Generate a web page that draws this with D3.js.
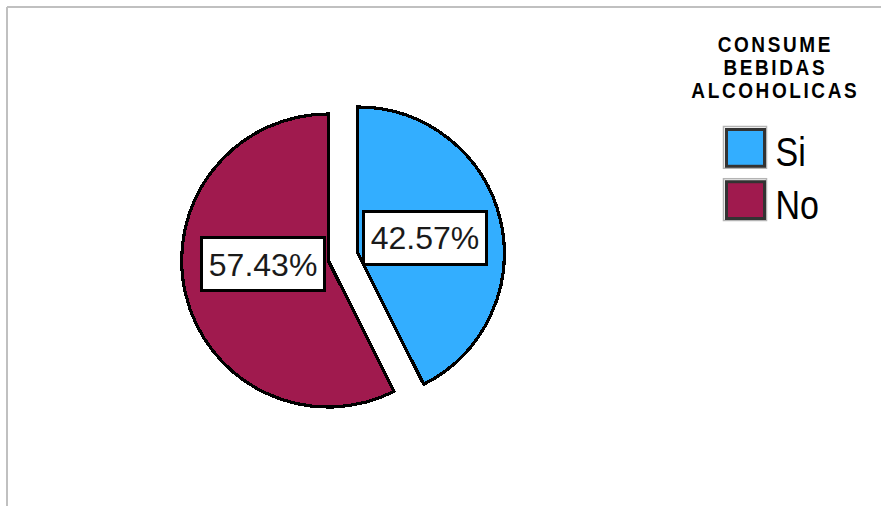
<!DOCTYPE html>
<html>
<head>
<meta charset="utf-8">
<script src="https://cdn.jsdelivr.net/npm/d3@7"></script>
<style>
  html, body { margin: 0; padding: 0; background: #fff; }
  svg { display: block; }
</style>
</head>
<body>
<svg id="chart" width="881" height="506"></svg>
<script>
// Survey answer: does the respondent drink alcoholic beverages?
const categories = ["Si", "No"];
const percentages = [42.57, 57.43];
const legendTitle = ["CONSUME", "BEBIDAS", "ALCOHOLICAS"];

const colors = ["#33aeff", "#a01a4e"];

const svg = d3.select("#chart");
const W = 881, H = 506;

// Frame lines along the top and left edges
svg.append("line").attr("x1", 7).attr("y1", 7).attr("x2", W).attr("y2", 7)
  .attr("stroke", "#c0c0c0").attr("stroke-width", 2);
svg.append("line").attr("x1", 7).attr("y1", 7).attr("x2", 7).attr("y2", H)
  .attr("stroke", "#c0c0c0").attr("stroke-width", 2);

// Pie layout
const cx = 343, cy = 257, radius = 146.5;
const explode = 15.2;     // distance each slice is pulled out
const labelDist = 69;     // label distance from a slice's own apex
const labelShift = [[0, 0], [2, -12]];

const pie = d3.pie().sort(null).value(d => d)
  .startAngle(0).endAngle(2 * Math.PI);
const arcs = pie(percentages);
const arc = d3.arc().innerRadius(0).outerRadius(radius);

const g = svg.append("g").attr("transform", `translate(${cx},${cy})`);

const dirOf = d => {
  const mid = (d.startAngle + d.endAngle) / 2;
  return [Math.sin(mid), -Math.cos(mid)];
};

const slices = g.selectAll("g.slice").data(arcs).enter().append("g")
  .attr("class", "slice")
  .attr("transform", d => {
    const [dx, dy] = dirOf(d);
    return `translate(${dx * explode},${dy * explode})`;
  });

slices.append("path")
  .attr("d", arc)
  .attr("fill", (d, i) => colors[i])
  .attr("stroke", "#000")
  .attr("stroke-width", 3.2)
  .attr("stroke-linejoin", "miter")
  .attr("shape-rendering", "crispEdges");

// Percentage labels in white boxes
const boxW = 123, boxH = 53;
const fmt = v => v.toFixed(2) + "%";
slices.each(function (d, i) {
  const [dx, dy] = dirOf(d);
  const lx = dx * labelDist + labelShift[i][0];
  const ly = dy * labelDist + labelShift[i][1];
  const lg = d3.select(this).append("g").attr("transform", `translate(${lx},${ly})`);
  lg.append("rect")
    .attr("x", -boxW / 2).attr("y", -boxH / 2)
    .attr("width", boxW).attr("height", boxH)
    .attr("fill", "#fff").attr("stroke", "#000").attr("stroke-width", 3)
    .attr("shape-rendering", "crispEdges");
  lg.append("text")
    .attr("x", 0).attr("y", 11.5)
    .attr("text-anchor", "middle")
    .attr("font-family", "'Liberation Sans', Arial, sans-serif")
    .attr("font-size", 32)
    .attr("fill", "#1a1a1a")
    .text(fmt(d.data));
});

// Legend title, three stacked lines
const lgX = 774;
legendTitle.forEach((t, i) => {
  svg.append("text")
    .attr("transform", `translate(${lgX + 1.3},${51.5 + i * 23.3}) scale(1,1.15)`)
    .attr("text-anchor", "middle")
    .attr("font-family", "'Liberation Sans', Arial, sans-serif")
    .attr("font-weight", "bold")
    .attr("font-size", 19)
    .attr("letter-spacing", 2.6)
    .attr("fill", "#000")
    .text(t);
});

const legendY = d3.scaleBand().domain(categories).range([126.5, 220.5]).paddingInner(0.2);
const items = svg.selectAll("g.legend").data(categories).enter().append("g")
  .attr("class", "legend")
  .attr("transform", d => `translate(723.5,${legendY(d)})`);

items.append("rect")
  .attr("x", 0).attr("y", 0)
  .attr("width", 43).attr("height", legendY.bandwidth())
  .attr("fill", "none").attr("stroke", "#b4b4b4").attr("stroke-width", 1.5);
items.append("rect")
  .attr("x", 3).attr("y", 3)
  .attr("width", 38).attr("height", legendY.bandwidth() - 5)
  .attr("fill", (d, i) => colors[i])
  .attr("stroke", "#333").attr("stroke-width", 3);
items.append("text")
  .attr("transform", `translate(52,${legendY.bandwidth() - 2}) scale(1,1.2)`)
  .attr("font-family", "'Liberation Sans', Arial, sans-serif")
  .attr("font-size", 34)
  .attr("fill", "#000")
  .text(d => d);
</script>
</body>
</html>
